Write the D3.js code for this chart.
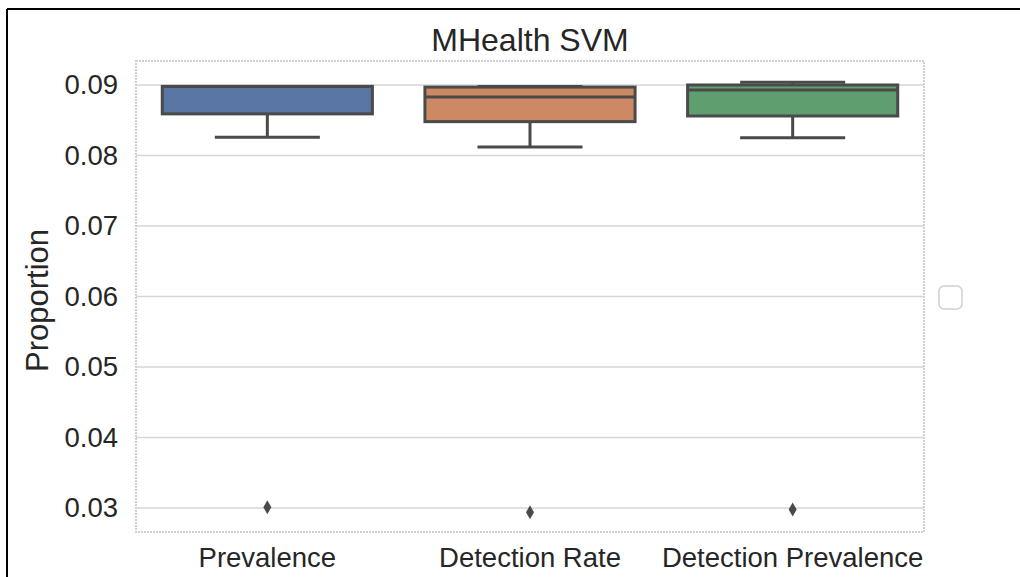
<!DOCTYPE html>
<html>
<head>
<meta charset="utf-8">
<script src="https://cdn.jsdelivr.net/npm/d3@7"></script>
<style>
	body { margin: 0; background: #fff; }
	text { font-family: "Liberation Sans", Arial, sans-serif; fill: #262626; }
</style>
</head>
<body>
<div id="graph"></div>
<script>
// DATA
var categories = ["Prevalence", "Detection Rate", "Detection Prevalence"];
var colors = ["#5875a4", "#cc8963", "#5f9e6e"];
var q1 = [0.0859, 0.0848, 0.0856];
var median = [0.0898, 0.0883, 0.0893];
var q3 = [0.0898, 0.0897, 0.09];
var whiskerLow = [0.0826, 0.0812, 0.0825];
var whiskerHigh = [0.0898, 0.0898, 0.0904];
var outliers = [[0.0301], [0.0294], [0.0298]];
var yTicks = [0.03, 0.04, 0.05, 0.06, 0.07, 0.08, 0.09];

var data = categories.map(function (c, i) {
	return {
		name: c,
		color: colors[i],
		q1: q1[i],
		median: median[i],
		q3: q3[i],
		lo: whiskerLow[i],
		hi: whiskerHigh[i],
		out: outliers[i],
	};
});

var width = 1020,
	height = 577;
var margin = { top: 61, right: 96, bottom: 45, left: 136 };
var plotW = width - margin.left - margin.right,
	plotH = height - margin.top - margin.bottom;

var svg = d3
	.select("#graph")
	.append("svg")
	.attr("width", width)
	.attr("height", height);

// OUTER FRAME (only top and left edges visible)
svg.append("line").attr("x1", 7).attr("x2", width).attr("y1", 9).attr("y2", 9)
	.attr("stroke", "#000").attr("stroke-width", 2);
svg.append("line").attr("x1", 7).attr("x2", 7).attr("y1", 9).attr("y2", height)
	.attr("stroke", "#000").attr("stroke-width", 2);

var g = svg
	.append("g")
	.attr("transform", "translate(" + margin.left + "," + margin.top + ")");

// SCALES
var x = d3.scaleBand().domain(categories).range([0, plotW]).paddingInner(0).paddingOuter(0);
var y = d3.scaleLinear().domain([0.0266, 0.0934]).range([plotH, 0]);

// GRID
g.selectAll(".grid")
	.data(yTicks)
	.join("line")
	.attr("class", "grid")
	.attr("x1", 0)
	.attr("x2", plotW)
	.attr("y1", function (d) { return y(d); })
	.attr("y2", function (d) { return y(d); })
	.attr("stroke", "#d6d6d6")
	.attr("stroke-width", 1.5);

// Y AXIS
var yAxis = g.append("g").call(d3.axisLeft(y).tickValues(yTicks).tickSize(0).tickPadding(18).tickFormat(d3.format(".2f")));
yAxis.select(".domain").remove();
yAxis.selectAll("text").style("font-size", "27.5px").attr("fill", "#262626");

// X AXIS
var xAxis = g.append("g").attr("transform", "translate(0," + plotH + ")")
	.call(d3.axisBottom(x).tickSize(0).tickPadding(15));
xAxis.select(".domain").remove();
xAxis.selectAll("text").style("font-size", "27.5px").attr("fill", "#262626");

// PLOT BORDER (dotted light gray)
g.append("rect")
	.attr("x", 0)
	.attr("y", 0)
	.attr("width", plotW)
	.attr("height", plotH)
	.attr("fill", "none")
	.attr("stroke", "#d0d0d0")
	.attr("stroke-width", 2)
	.attr("stroke-dasharray", "2,1");

// BOXES
var boxW = x.bandwidth() * 0.8;
var lineColor = "#4a4a4a";
var boxes = g.selectAll(".box").data(data).join("g").attr("class", "box")
	.attr("transform", function (d) { return "translate(" + (x(d.name) + x.bandwidth() / 2) + ",0)"; });

// whiskers
boxes.append("line")
	.attr("x1", 0).attr("x2", 0)
	.attr("y1", function (d) { return y(d.q1); })
	.attr("y2", function (d) { return y(d.lo); })
	.attr("stroke", lineColor).attr("stroke-width", 3);
boxes.append("line")
	.attr("x1", 0).attr("x2", 0)
	.attr("y1", function (d) { return y(d.q3); })
	.attr("y2", function (d) { return y(d.hi); })
	.attr("stroke", lineColor).attr("stroke-width", 3);
// caps
boxes.append("line")
	.attr("x1", -boxW / 4).attr("x2", boxW / 4)
	.attr("y1", function (d) { return y(d.lo); })
	.attr("y2", function (d) { return y(d.lo); })
	.attr("stroke", lineColor).attr("stroke-width", 3);
boxes.append("line")
	.attr("x1", -boxW / 4).attr("x2", boxW / 4)
	.attr("y1", function (d) { return y(d.hi); })
	.attr("y2", function (d) { return y(d.hi); })
	.attr("stroke", lineColor).attr("stroke-width", 3);
// box
boxes.append("rect")
	.attr("x", -boxW / 2)
	.attr("width", boxW)
	.attr("y", function (d) { return y(d.q3); })
	.attr("height", function (d) { return y(d.q1) - y(d.q3); })
	.attr("fill", function (d) { return d.color; })
	.attr("stroke", lineColor)
	.attr("stroke-width", 3);
// median
boxes.append("line")
	.attr("x1", -boxW / 2).attr("x2", boxW / 2)
	.attr("y1", function (d) { return y(d.median); })
	.attr("y2", function (d) { return y(d.median); })
	.attr("stroke", lineColor).attr("stroke-width", 3);
// outliers (thin diamonds)
boxes.selectAll(".outlier")
	.data(function (d) { return d.out; })
	.join("path")
	.attr("class", "outlier")
	.attr("d", function (v) {
		var cy = y(v);
		return "M0," + (cy - 7) + "L4," + cy + "L0," + (cy + 7) + "L-4," + cy + "Z";
	})
	.attr("fill", lineColor);

// TITLE
svg.append("text")
	.attr("x", margin.left + plotW / 2)
	.attr("y", 51)
	.attr("text-anchor", "middle")
	.style("font-size", "32px")
	.text("MHealth SVM");

// Y LABEL
svg.append("text")
	.attr("transform", "translate(48," + (margin.top + plotH / 2 + 4) + ") rotate(-90)")
	.attr("text-anchor", "middle")
	.style("font-size", "31px")
	.text("Proportion");

// EMPTY LEGEND
svg.append("rect")
	.attr("x", 939)
	.attr("y", 286)
	.attr("width", 23)
	.attr("height", 23)
	.attr("rx", 5)
	.attr("fill", "#fff")
	.attr("stroke", "#cfcfcf")
	.attr("stroke-width", 1.5);
</script>
</body>
</html>
